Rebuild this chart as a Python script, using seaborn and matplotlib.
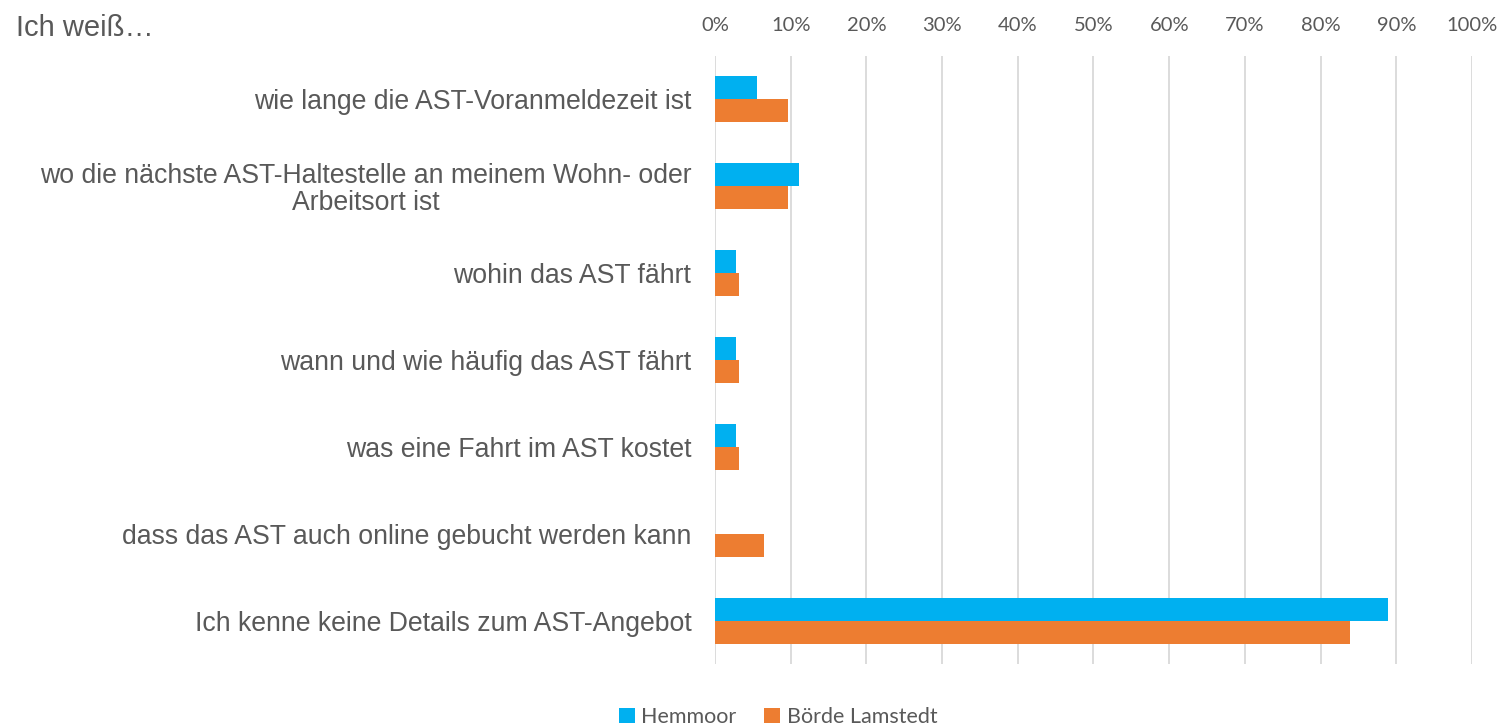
import pandas as pd
import matplotlib
matplotlib.use("Agg")
import matplotlib.pyplot as plt
import seaborn as sns
from matplotlib.ticker import PercentFormatter

# data (share of respondents)
categories = [
    "wie lange die AST-Voranmeldezeit ist",
    "wo die nächste AST-Haltestelle an meinem Wohn- oder\nArbeitsort ist",
    "wohin das AST fährt",
    "wann und wie häufig das AST fährt",
    "was eine Fahrt im AST kostet",
    "dass das AST auch online gebucht werden kann",
    "Ich kenne keine Details zum AST-Angebot",
]
hemmoor = [0.056, 0.111, 0.028, 0.028, 0.028, 0.0, 0.889]
lamstedt = [0.097, 0.097, 0.032, 0.032, 0.032, 0.065, 0.839]
series = ["Hemmoor", "Börde Lamstedt"]
colors = ["#00B0F0", "#ED7D31"]

df = pd.DataFrame({
    "Kategorie": categories * 2,
    "Ort": [series[0]] * len(categories) + [series[1]] * len(categories),
    "Anteil": hemmoor + lamstedt,
})

sns.set_style("white")
plt.rcParams["font.family"] = ["Liberation Sans", "DejaVu Sans"]
grey = "#595959"

fig = plt.figure(figsize=(15.09, 7.26), dpi=100)
ax = fig.add_axes([0.4738, 0.0854, 0.5017, 0.8375])

sns.barplot(
    data=df, y="Kategorie", x="Anteil", hue="Ort",
    palette=colors, width=0.53, orient="h", ax=ax,
    linewidth=0, saturation=1, legend=True,
)

ax.set_xlim(0, 1)
ax.set_xticks([i / 10 for i in range(11)])
ax.xaxis.set_major_formatter(PercentFormatter(1.0, decimals=0))
ax.xaxis.tick_top()
ax.tick_params(axis="x", length=0, pad=16, labelsize=14.5, labelcolor=grey)
ax.tick_params(axis="y", length=0, pad=17, labelsize=19.2, labelcolor=grey)
for lab in ax.get_xticklabels():
    lab.set_fontfamily(["Lato", "DejaVu Sans"])
for lab in ax.get_yticklabels():
    lab.set_multialignment("center")
    lab.set_linespacing(1.05)

ax.grid(axis="x", color="#D9D9D9", linewidth=1.3)
ax.set_axisbelow(True)
for s in ax.spines.values():
    s.set_visible(False)
ax.set_xlabel("")
ax.set_ylabel("")

ax.legend(
    loc="center", bbox_to_anchor=(0.5156, 0.0125), bbox_transform=fig.transFigure,
    ncol=2, frameon=False, handlelength=0.75, handleheight=0.75, handletextpad=0.3,
    columnspacing=1.3, prop={"family": ["Lato", "DejaVu Sans"], "size": 15.5},
    labelcolor=grey,
)

fig.text(0.0105, 0.9615, "Ich weiß…", fontsize=21, color=grey, va="center", ha="left")

fig.savefig("out.png", dpi=100)
